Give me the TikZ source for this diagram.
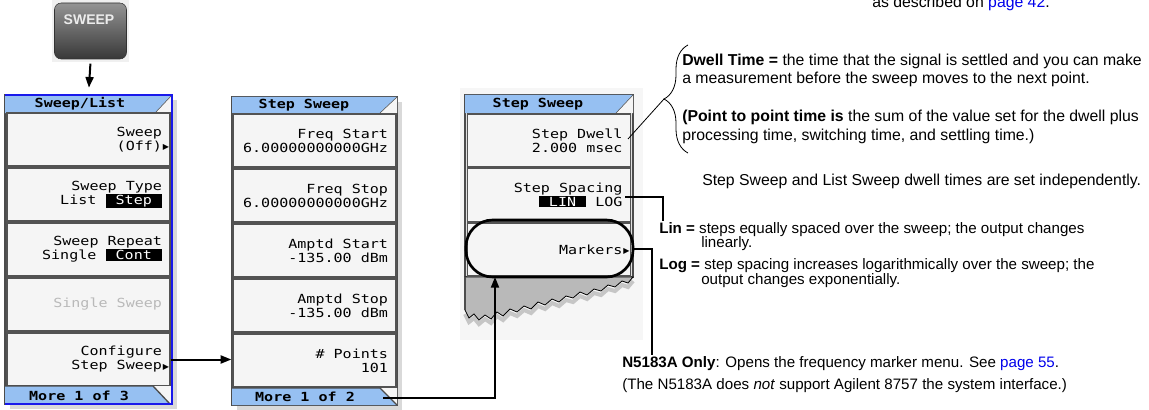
\documentclass[tikz,border=0pt]{standalone}
\usepackage{fontspec}
\setmainfont{Liberation Sans}
\newfontfamily\lcd[FakeStretch=1.2]{DejaVu Sans Mono}
\newfontfamily\simb{DejaVu Sans}
\usetikzlibrary{arrows.meta, decorations.pathreplacing}
\definecolor{barra}{RGB}{150,192,242}
\definecolor{blu}{RGB}{25,25,235}
\definecolor{link}{RGB}{0,0,235}
\newcommand{\lcdfont}{\lcd\fontsize{9.4}{10.5}\selectfont
    \fontdimen2\font=6.8pt\fontdimen3\font=0pt\fontdimen4\font=0pt}
\newcommand{\lcdbold}{\lcd\bfseries\fontsize{9.4}{10}\selectfont
    \fontdimen2\font=6.8pt\fontdimen3\font=0pt\fontdimen4\font=0pt}
\newcommand{\evid}[1]{{\setlength{\fboxsep}{0.8pt}\colorbox{black}{\textcolor{white}{#1}}}}
\newcommand{\tri}{\rlap{\hspace{0.6pt}\raisebox{0.5pt}{\simb\fontsize{6}{6}\selectfont ▶}}}

\begin{document}
\begin{tikzpicture}[
    x=0.75pt, y=-0.75pt,
    pannello/.style={draw=gray!60!black, fill=gray!25, line width=1pt, inner sep=0pt},
    tasto/.style={draw=gray!65!black, fill=white!96!black, line width=1pt, minimum height=39.75pt,
        text width=110.25pt, inner xsep=6pt, inner ysep=0pt, align=flush right, font=\lcdfont},
    titolo/.style={font=\lcdbold, inner sep=0pt},
    ombra/.style={fill=gray!30},
    linea/.style={line width=1.5pt},
    freccia/.style={line width=1.5pt, -{Triangle[length=8pt,width=6pt]}},
    nota/.style={font=\fontsize{11.85}{14}\selectfont, inner sep=0pt, anchor=base west},
    notina/.style={nota, font=\fontsize{11.35}{13}\selectfont}
]
    \useasboundingbox (0,0) rectangle (1149,410);

    % 1. Tasto SWEEP
    \node[fill=gray!12, minimum width=57.75pt, minimum height=46.5pt, inner sep=0pt] (sfondo) at (90.5,31) {};
    \node[draw=black!80, rounded corners=5pt, top color=black!42, bottom color=black!78,
          minimum width=54pt, minimum height=42pt, inner sep=0pt] (sweep) at (90.5,31) {};
    \node[font=\bfseries\fontsize{10.5}{12}\selectfont, text=gray!15, inner sep=0pt] (sweeplbl) at (89,20) {SWEEP};

    % 2. Menu Sweep/List
    \fill[ombra] (10,100) rectangle (177,409);
    \node[pannello, minimum width=125.25pt, minimum height=231.75pt] (m1) at (88.5,249.5) {};
    \fill[barra] (5,95) -- (172,95) -- (155,113) -- (5,113) -- cycle;
    \fill[white!92!gray] (172,95) -- (172,113) -- (155,113) -- cycle;
    \draw[gray!60!black] (155,113) -- (172,95);
    \node[titolo] (t1) at (80,104) {Sweep/List};
    \node[tasto] (m1k1) at (88.5,139.5) {Sweep\\(Off)\tri};
    \node[tasto] (m1k2) at (88.5,194.5) {Sweep Type\\List \evid{~Step~}};
    \node[tasto] (m1k3) at (88.5,249.5) {Sweep Repeat\\Single \evid{~Cont~}};
    \node[tasto, text=gray!55] (m1k4) at (88.5,304.5) {Single Sweep};
    \node[tasto] (m1k5) at (88.5,359.5) {Configure\\Step Sweep\tri};
    \fill[barra] (5,386) -- (153,386) -- (170,404) -- (5,404) -- cycle;
    \fill[white!92!gray] (153,386) -- (172,386) -- (172,404) -- (170,404) -- cycle;
    \draw[gray!60!black, line width=1pt] (5,386) -- (153,386) -- (170,404);
    \node[titolo] (b1) at (79,396) {More 1 of 3};
    \draw[blu, line width=1.5pt] (5,95) -- (172,95) -- (172,404) -- (5,404);

    % 3. Menu Step Sweep (pagina 1)
    \fill[ombra] (237,102) rectangle (402,410);
    \node[pannello, minimum width=123.75pt, minimum height=231pt] (m2) at (314.5,251) {};
    \fill[barra] (232,97) -- (397,97) -- (380,113) -- (232,113) -- cycle;
    \fill[white!92!gray] (397,97) -- (397,113) -- (380,113) -- cycle;
    \draw[gray!60!black] (380,113) -- (397,97);
    \node[titolo] (t2) at (304,105) {Step Sweep};
    \node[tasto] (m2k1) at (314.5,140.5) {Freq Start\\6.00000000000GHz};
    \node[tasto] (m2k2) at (314.5,195.5) {Freq Stop\\6.00000000000GHz};
    \node[tasto] (m2k3) at (314.5,250.5) {Amptd Start\\-135.00 dBm};
    \node[tasto] (m2k4) at (314.5,305.5) {Amptd Stop\\-135.00 dBm};
    \node[tasto] (m2k5) at (314.5,360.5) {\# Points\\101};
    \fill[barra] (232,388) -- (380,388) -- (397,405) -- (232,405) -- cycle;
    \fill[white!92!gray] (380,388) -- (397,388) -- (397,405) -- cycle;
    \draw[gray!60!black, line width=1pt] (232,388) -- (380,388) -- (397,405);
    \node[titolo] (b2) at (305,397) {More 1 of 2};

    % 4. Menu Step Sweep (strappato)
    \fill[gray!7] (460,88) rectangle (643,340);
    \node[pannello, minimum width=126pt, minimum height=136.5pt] (m3) at (549,186) {};
    \draw[gray!45, line width=3pt] (633,281) -- (628,287) -- (622,285) -- (615,291) -- (608,289) -- (601,295)
        -- (594,293) -- (587,299) -- (580,296) -- (573,302) -- (566,300) -- (559,306) -- (552,303)
        -- (545,309) -- (538,306) -- (531,313) -- (524,310) -- (517,316) -- (510,313) -- (503,320)
        -- (497,316) -- (491,323) -- (485,319) -- (479,324) -- (474,318) -- (469,322) -- (465,314);
    \fill[gray!55, draw=black, line width=0.6pt] (465,277) -- (633,277) -- (633,277) -- (628,283)
        -- (622,281) -- (615,287) -- (608,285) -- (601,291) -- (594,289) -- (587,295) -- (580,292)
        -- (573,298) -- (566,296) -- (559,302) -- (552,299) -- (545,305) -- (538,302) -- (531,309)
        -- (524,306) -- (517,312) -- (510,309) -- (503,316) -- (497,312) -- (491,319) -- (485,315)
        -- (479,320) -- (474,314) -- (469,318) -- (465,310) -- cycle;
    \draw[gray!60!black, line width=1pt] (465,277) -- (465,310);
    \fill[barra] (465,95) -- (633,95) -- (616,113) -- (465,113) -- cycle;
    \fill[white!92!gray] (633,95) -- (633,113) -- (616,113) -- cycle;
    \draw[gray!60!black] (616,113) -- (633,95);
    \node[titolo] (t3) at (538,104) {Step Sweep};
    \node[tasto] (m3k1) at (549,140.5) {Step Dwell\\2.000 msec};
    \node[tasto] (m3k2) at (549,195) {Step Spacing\\\evid{~LIN~}~LOG\hspace*{6.8pt}};
    \node[tasto] (m3k3) at (549,249.5) {Markers\tri};
    \node[draw, line width=2pt, rounded corners=20pt, minimum width=125.25pt, minimum height=42.75pt,
          inner sep=0pt] (ovale) at (549.5,248.5) {};

    % 5. Note a destra
    \node[nota] (rif) at (872,8) {as described on \textcolor{link}{page 42}.};
    \node[nota] (dw1) at (682,65.5) {\textbf{Dwell Time =} the time that the signal is settled and you can make};
    \node[nota] (dw2) at (682,83.5) {a measurement before the sweep moves to the next point.};
    \node[nota] (pp1) at (682,121.5) {\textbf{(Point to point time is} the sum of the value set for the dwell plus};
    \node[nota] (pp2) at (682,140) {processing time, switching time, and settling time.)};
    \node[nota] (indip) at (702,185.5) {Step Sweep and List Sweep dwell times are set independently.};
    \node[notina] (lin1) at (659,233) {\textbf{Lin =} steps equally spaced over the sweep; the output changes};
    \node[notina] (lin2) at (701,247.5) {linearly.};
    \node[notina] (log1) at (659,269.5) {\textbf{Log =} step spacing increases logarithmically over the sweep; the};
    \node[notina] (log2) at (701,284) {output changes exponentially.};
    \node[notina] (n51) at (622,367) {\textbf{N5183A Only}: Opens the frequency marker menu. See \textcolor{link}{page 55}.};
    \node[notina] (n52) at (622,389) {(The N5183A does \textit{not} support Agilent 8757 the system interface.)};

    % 6. Collegamenti
    \coordinate (graffa) at (664,99);
    \coordinate (dw) at (628,139);
    \coordinate (sp) at (625,197);
    \coordinate (ln) at (663,221);
    \coordinate (mk) at (652,355);
    \coordinate (m2c) at (383,398);
    \coordinate (mkin) at (495,277);
    \draw[decorate, decoration={brace, amplitude=18pt}, line width=0.6pt] (688,153) -- (688,45);
    \draw[line width=0.6pt] (dw) -- (graffa);
    \draw[linea] (sp) -| (ln);
    \draw[linea] (ovale.east) -| (mk);
    \draw[freccia, shorten <=1pt, shorten >=5pt] (sfondo.south) -- (m1.north);
    \draw[freccia] (m1k5.east) -- (m1k5.east -| m2.west);
    \draw[freccia] (m2c) -| (mkin);

\end{tikzpicture}
\end{document}
